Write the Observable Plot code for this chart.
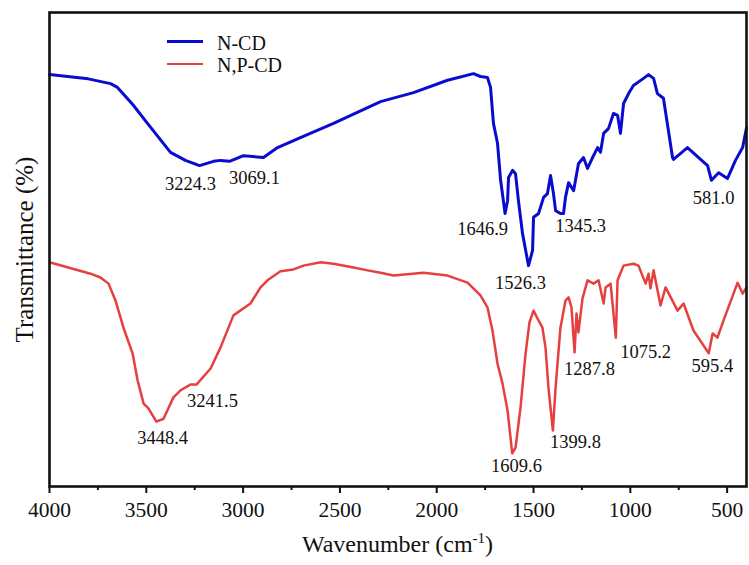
<!DOCTYPE html>
<html>
<head>
<meta charset="utf-8">
<script src="https://cdn.jsdelivr.net/npm/d3@7"></script>
<script src="https://cdn.jsdelivr.net/npm/@observablehq/plot@0.6"></script>
<style>
  body { margin: 0; background: #fff; font-family: "Liberation Serif", "DejaVu Serif", "Times New Roman", serif; }
  #wrap { position: relative; width: 749px; height: 565px; }
  #xtitle { position: absolute; left: 49px; width: 697px; top: 530px; line-height: 28px; text-align: center; font-size: 24px; color: #111; }
  #legend { position: absolute; left: 167px; top: 32px; font-size: 20px; line-height: 22.4px; color: #111; }
  .li { display: flex; align-items: center; height: 22.4px; line-height: 22.4px; }
  .sw { width: 36px; height: 0; margin-right: 14px; margin-top: -3px; }
  #chart svg text { font-family: "Liberation Serif", "DejaVu Serif", "Times New Roman", serif; }
</style>
</head>
<body>
<div id="wrap">
  <div id="chart"></div>
  <div id="legend"></div>
  <div id="xtitle">Wavenumber (cm<sup style="font-size:15px; line-height:0">-1</sup>)</div>
</div>
<script>
// Series names and colours
const seriesNames = ["N-CD", "N,P-CD"];
const seriesColors = ["#0b0bd0", "#e5403f"];

// N-CD spectrum: wavenumber (cm-1) and transmittance (arbitrary %)
const ncdWavenumber = [4000, 3800, 3685, 3649, 3570, 3494, 3375, 3298, 3225, 3153, 3117, 3070, 2998, 2895, 2822, 2704, 2533, 2290, 2120, 1944, 1810, 1774, 1738, 1722, 1707, 1686, 1670, 1647, 1634, 1629, 1608, 1593, 1578, 1557, 1526, 1505, 1500, 1474, 1448, 1428, 1412, 1397, 1386, 1361, 1345, 1335, 1319, 1293, 1268, 1242, 1221, 1195, 1169, 1154, 1138, 1113, 1087, 1066, 1051, 1035, 1009, 984, 932, 906, 880, 860, 829, 782, 777, 705, 601, 581, 544, 498, 457, 420, 400];
const ncdT = [86.9, 86.0, 85.0, 84.2, 80.6, 76.6, 70.5, 68.8, 67.7, 68.6, 68.8, 68.6, 69.8, 69.4, 71.5, 73.6, 76.6, 81.2, 83.1, 85.7, 87.1, 86.5, 86.3, 84.2, 76.6, 72.4, 64.6, 57.6, 60.3, 65.2, 66.7, 66.0, 60.3, 53.4, 46.6, 49.8, 56.8, 57.6, 61.0, 61.8, 65.6, 61.8, 58.2, 57.6, 57.6, 61.0, 64.1, 62.4, 68.1, 69.4, 67.1, 69.4, 71.5, 70.5, 74.5, 75.5, 78.7, 78.3, 74.5, 80.8, 82.9, 84.6, 86.1, 86.9, 86.1, 82.9, 81.9, 69.4, 69.0, 71.5, 67.7, 64.6, 66.2, 65.0, 68.8, 71.5, 75.7];

// N,P-CD spectrum
const npcdWavenumber = [4000, 3788, 3737, 3695, 3659, 3618, 3571, 3545, 3514, 3489, 3448, 3411, 3360, 3323, 3272, 3241, 3168, 3117, 3050, 2977, 2962, 2910, 2874, 2807, 2740, 2688, 2600, 2533, 2430, 2357, 2290, 2223, 2068, 1944, 1841, 1774, 1738, 1712, 1686, 1660, 1634, 1610, 1593, 1567, 1541, 1521, 1500, 1479, 1454, 1438, 1423, 1400, 1386, 1361, 1335, 1319, 1304, 1288, 1278, 1268, 1247, 1221, 1190, 1164, 1138, 1128, 1102, 1075, 1066, 1035, 984, 958, 921, 906, 896, 880, 844, 818, 756, 725, 674, 595, 575, 550, 519, 446, 420, 400];
const npcdT = [47.3, 44.9, 44.1, 42.8, 39.2, 33.5, 28.1, 22.4, 17.5, 16.5, 13.7, 14.3, 18.8, 20.3, 21.5, 21.5, 24.9, 29.3, 36.1, 38.2, 38.6, 42.0, 43.5, 45.4, 45.8, 46.6, 47.3, 47.0, 46.2, 45.6, 45.1, 44.5, 45.1, 44.5, 43.0, 40.3, 37.8, 32.9, 25.9, 21.7, 16.0, 7.0, 8.2, 16.7, 28.1, 34.6, 37.1, 35.4, 33.5, 29.3, 20.9, 11.8, 20.9, 33.5, 39.2, 39.9, 37.8, 28.3, 36.5, 32.5, 39.7, 43.5, 42.8, 43.5, 38.6, 42.0, 42.8, 31.4, 43.5, 46.6, 47.0, 46.6, 42.8, 44.9, 41.8, 45.6, 38.2, 42.0, 37.1, 38.6, 32.9, 28.1, 32.3, 31.4, 35.0, 43.0, 40.7, 42.0];

// Peak annotation texts and where they sit (wavenumber, transmittance)
const peakText = ["3224.3", "3069.1", "1646.9", "1526.3", "1345.3", "581.0", "3448.4", "3241.5", "1609.6", "1399.8", "1287.8", "1075.2", "595.4"];
const peakLabelX = [3272, 2941, 1763, 1567, 1257, 570, 3416, 3158, 1588, 1283, 1211, 921, 576];
const peakLabelY = [63.9, 65.0, 54.4, 43.0, 54.9, 60.8, 10.3, 18.1, 4.4, 9.3, 24.7, 28.3, 25.3];

// Axis ticks
const majorTicks = [4000, 3500, 3000, 2500, 2000, 1500, 1000, 500];
const minorTicks = [3750, 3250, 2750, 2250, 1750, 1250, 750];

const ncd = ncdWavenumber.map((w, i) => ({w, t: ncdT[i]}));
const npcd = npcdWavenumber.map((w, i) => ({w, t: npcdT[i]}));
const peaks = peakText.map((s, i) => ({s, x: peakLabelX[i], y: peakLabelY[i]}));

const serif = "'Liberation Serif', 'DejaVu Serif', 'Times New Roman', serif";
const chart = Plot.plot({
  width: 749,
  height: 530,
  marginLeft: 49,
  marginRight: 3,
  marginTop: 12,
  marginBottom: 44,
  style: {fontFamily: serif, fontSize: "21px", color: "#111", background: "white"},
  x: {domain: [4000, 400]},
  y: {domain: [0, 100], axis: null},
  marks: [
    Plot.line(npcd, {x: "w", y: "t", stroke: seriesColors[1], strokeWidth: 2.5}),
    Plot.line(ncd, {x: "w", y: "t", stroke: seriesColors[0], strokeWidth: 3}),
    Plot.text(peaks, {x: "x", y: "y", text: "s", fontSize: 18.5, fill: "#111"}),
    Plot.text(["Transmittance (%)"], {frameAnchor: "left", textAnchor: "middle", text: d => d, rotate: -90, dx: -25, fontSize: 25, fill: "#111"}),
    Plot.axisX({ticks: minorTicks, tickSize: 4, tickFormat: () => "", strokeWidth: 2}),
    Plot.axisX({ticks: majorTicks, tickSize: 7, tickPadding: 8, tickFormat: d => String(d), strokeWidth: 2, fontSize: 21.5, label: null}),
    Plot.frame({stroke: "#111", strokeWidth: 2.6})
  ]
});
document.getElementById("chart").appendChild(chart);

const legend = document.getElementById("legend");
seriesNames.forEach((n, i) => {
  const row = document.createElement("div");
  row.className = "li";
  const sw = document.createElement("div");
  sw.className = "sw";
  sw.style.borderTop = `${i === 0 ? 3 : 2.5}px solid ${seriesColors[i]}`;
  const lab = document.createElement("span");
  lab.textContent = n;
  row.appendChild(sw);
  row.appendChild(lab);
  legend.appendChild(row);
});
</script>
</body>
</html>
